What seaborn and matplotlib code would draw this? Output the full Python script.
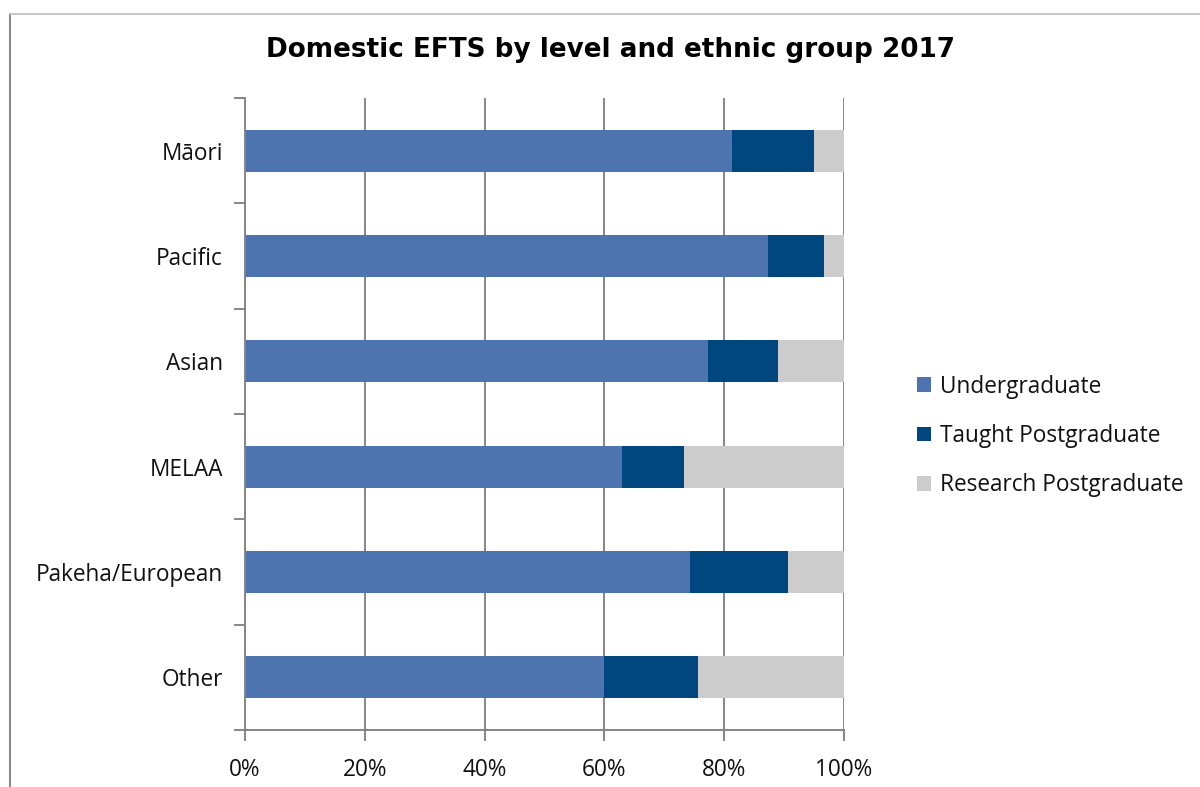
import matplotlib
matplotlib.use("Agg")
import matplotlib.pyplot as plt
from matplotlib.lines import Line2D
from matplotlib.patches import Patch
import seaborn as sns
import pandas as pd
import numpy as np

# Share of domestic EFTS (%) by study level, per ethnic group, 2017
groups = ["Māori", "Pacific", "Asian", "MELAA", "Pakeha/European", "Other"]
undergraduate = [81.3, 87.3, 77.3, 62.9, 74.3, 59.9]
taught_pg = [13.7, 9.4, 11.7, 10.4, 16.4, 15.7]
research_pg = [5.0, 3.3, 11.0, 26.7, 9.3, 24.4]
levels = ["Undergraduate", "Taught Postgraduate", "Research Postgraduate"]
colors = ["#4E74B0", "#00467F", "#CCCCCC"]
x_ticks = [0, 20, 40, 60, 80, 100]

sns.set_theme(style="white")
plt.rcParams["font.family"] = ["Open Sans", "DejaVu Sans"]

df = pd.DataFrame({
    "group": groups,
    levels[0]: undergraduate,
    levels[1]: taught_pg,
    levels[2]: research_pg,
})
# cumulative right edges for the stacked segments
cum = df[levels].cumsum(axis=1)

fig = plt.figure(figsize=(12, 7.87), dpi=100)
ax = fig.add_axes([245 / 1200, 1 - 730 / 787, 599 / 1200, 632 / 787])

grid_c = "#868686"
for xv in x_ticks:
    ax.axvline(xv, color=grid_c, lw=1.4, zorder=0)

for lvl, col in reversed(list(zip(levels, colors))):
    sns.barplot(x=cum[lvl], y=df["group"], orient="h", color=col,
                width=0.4, saturation=1, ax=ax, zorder=2, edgecolor="none")

label_fs = 16.3
ax.set_xlim(0, 100)
ax.set_ylim(5.5, -0.5)
ax.set_xlabel("")
ax.set_ylabel("")
ax.set_xticks(x_ticks)
ax.set_xticklabels([f"{v}%" for v in x_ticks], fontsize=label_fs, color="#111111")
ax.set_yticks(range(len(groups)))
ax.set_yticklabels(groups, fontsize=label_fs, color="#111111")
ax.set_yticks(np.arange(-0.5, len(groups), 1.0), minor=True)
ax.tick_params(axis="y", which="major", left=True, length=0, pad=16)
ax.tick_params(axis="y", which="minor", left=True, length=8, width=1.4,
               color=grid_c, direction="out")
ax.tick_params(axis="x", which="major", bottom=True, length=8, width=1.4,
               color=grid_c, direction="out", pad=12)

for side in ["top", "right"]:
    ax.spines[side].set_visible(False)
for side in ["left", "bottom"]:
    ax.spines[side].set_color(grid_c)
    ax.spines[side].set_linewidth(1.4)

fig.text(0.509, 1 - 50 / 787, "Domestic EFTS by level and ethnic group 2017",
         ha="center", va="center", fontsize=18.9, fontweight="bold",
         family="DejaVu Sans", color="black")

handles = [Patch(facecolor=c, edgecolor="none") for c in colors]
fig.legend(handles, levels, loc="center left",
           bbox_to_anchor=(917 / 1200, 1 - 436 / 787), frameon=False,
           fontsize=label_fs, handlelength=0.62, handleheight=0.62,
           handletextpad=0.4, labelspacing=1.12, labelcolor="#111111",
           borderpad=0, borderaxespad=0)

# chart-area frame lines (left and top edges)
fig.add_artist(Line2D([10 / 1200, 10 / 1200], [0, 1 - 14 / 787],
                      transform=fig.transFigure, color="#8C8C8C", lw=1.5))
fig.add_artist(Line2D([10 / 1200, 1], [1 - 14 / 787, 1 - 14 / 787],
                      transform=fig.transFigure, color="#BFBFBF", lw=1.2))

fig.savefig("out.png", dpi=100)
